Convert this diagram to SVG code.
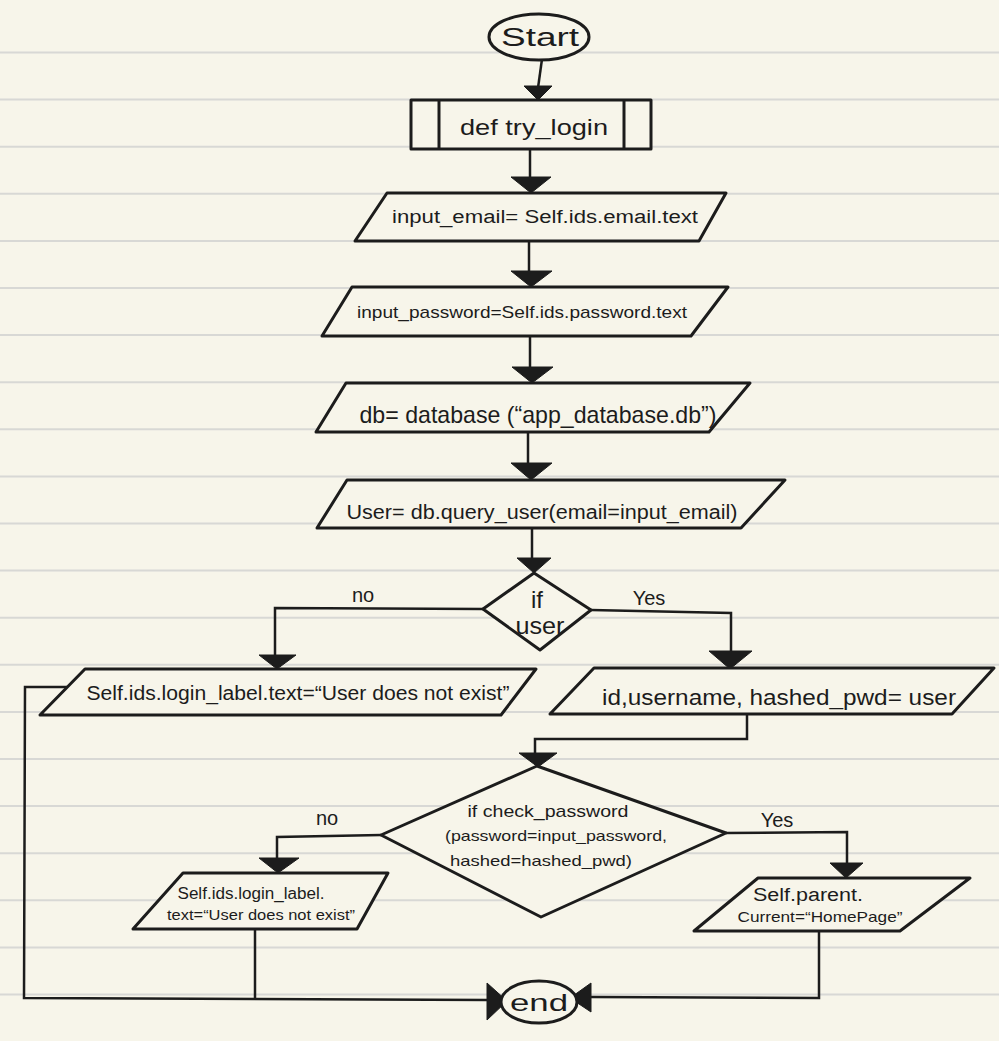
<svg xmlns="http://www.w3.org/2000/svg" width="999" height="1041" viewBox="0 0 999 1041">
<style>
.rule{stroke:#d8d8d5;stroke-width:2}
.shape{fill:#f7f5ea;stroke:#1c1c1c;stroke-width:3;stroke-linejoin:round}
.conn{fill:none;stroke:#1c1c1c;stroke-width:2.5;stroke-linejoin:miter}
.head{fill:#1c1c1c;stroke:#1c1c1c;stroke-width:1;stroke-linejoin:round}
text{font-family:"Liberation Sans",Arial,sans-serif;fill:#1c1c1c;text-anchor:middle;dominant-baseline:central}
</style>
<rect width="999" height="1041" fill="#f7f5ea"/>
<g id="paper">
<line class="rule" x1="0" y1="52.5" x2="999" y2="52.5"/>
<line class="rule" x1="0" y1="99.6" x2="999" y2="99.6"/>
<line class="rule" x1="0" y1="146.7" x2="999" y2="146.7"/>
<line class="rule" x1="0" y1="193.8" x2="999" y2="193.8"/>
<line class="rule" x1="0" y1="240.9" x2="999" y2="240.9"/>
<line class="rule" x1="0" y1="288" x2="999" y2="288"/>
<line class="rule" x1="0" y1="335.1" x2="999" y2="335.1"/>
<line class="rule" x1="0" y1="382.2" x2="999" y2="382.2"/>
<line class="rule" x1="0" y1="429.3" x2="999" y2="429.3"/>
<line class="rule" x1="0" y1="476.4" x2="999" y2="476.4"/>
<line class="rule" x1="0" y1="523.5" x2="999" y2="523.5"/>
<line class="rule" x1="0" y1="570.6" x2="999" y2="570.6"/>
<line class="rule" x1="0" y1="617.7" x2="999" y2="617.7"/>
<line class="rule" x1="0" y1="664.8" x2="999" y2="664.8"/>
<line class="rule" x1="0" y1="711.9" x2="999" y2="711.9"/>
<line class="rule" x1="0" y1="759" x2="999" y2="759"/>
<line class="rule" x1="0" y1="806.1" x2="999" y2="806.1"/>
<line class="rule" x1="0" y1="853.2" x2="999" y2="853.2"/>
<line class="rule" x1="0" y1="900.3" x2="999" y2="900.3"/>
<line class="rule" x1="0" y1="947.4" x2="999" y2="947.4"/>
<line class="rule" x1="0" y1="994.5" x2="999" y2="994.5"/>
</g>
<g id="connectors">
<line class="conn" x1="542" y1="59" x2="538" y2="88"/>
<polygon class="head" points="524,86 552,86 538,100"/>
<line class="conn" x1="530" y1="149" x2="530" y2="178"/>
<polygon class="head" points="511,177 551,177 531,193"/>
<line class="conn" x1="529" y1="241" x2="529" y2="272"/>
<polygon class="head" points="511,271 552,271 531,287"/>
<line class="conn" x1="530" y1="336" x2="530" y2="368"/>
<polygon class="head" points="512,367 553,367 532,383"/>
<line class="conn" x1="528" y1="432" x2="528" y2="464"/>
<polygon class="head" points="511,463 552,463 531,480"/>
<line class="conn" x1="532" y1="528" x2="532" y2="559"/>
<polygon class="head" points="517,558 551,558 534,573"/>
<polyline class="conn" points="483,609 275,608 275,656"/>
<polygon class="head" points="259,655 296,655 277,669"/>
<polyline class="conn" points="591,610 731,613 731,652"/>
<polygon class="head" points="709,651 752,651 730,669"/>
<polyline class="conn" points="747,714 747,739 535,739 535,754"/>
<polygon class="head" points="519,753 557,753 538,767"/>
<polyline class="conn" points="381,835 277,837 277,859"/>
<polygon class="head" points="259,858 299,858 278,873"/>
<polyline class="conn" points="726,833 847,832 847,864"/>
<polygon class="head" points="830,863 863,863 846,878"/>
<polyline class="conn" points="67,687 25,687 24,998 488,1000"/>
<polygon class="head" points="487,983 487,1020 507,1001"/>
<line class="conn" x1="255" y1="929" x2="255" y2="1000"/>
<polyline class="conn" points="819,931 819,998 591,997"/>
<polygon class="head" points="591,983 591,1012 570,998"/>
</g>
<g id="start">
<ellipse class="shape" cx="539" cy="37" rx="50" ry="23"/>
<text x="540" y="37" font-size="26" textLength="78" lengthAdjust="spacingAndGlyphs">Start</text>
</g>
<g id="def-try-login">
<rect class="shape" x="411" y="100" width="240" height="49"/>
<line class="shape" x1="439" y1="100" x2="439" y2="149"/>
<line class="shape" x1="624" y1="100" x2="624" y2="149"/>
<text x="534" y="127" font-size="22" textLength="148" lengthAdjust="spacingAndGlyphs">def try_login</text>
</g>
<g id="input-email">
<polygon class="shape" points="387,193 726,193 699,241 355,241"/>
<text x="545" y="217" font-size="18" textLength="306" lengthAdjust="spacingAndGlyphs">input_email= Self.ids.email.text</text>
</g>
<g id="input-password">
<polygon class="shape" points="352,287 728,287 691,336 322,336"/>
<text x="522" y="312" font-size="17" textLength="330" lengthAdjust="spacingAndGlyphs">input_password=Self.ids.password.text</text>
</g>
<g id="db">
<polygon class="shape" points="346,383 750,383 709,432 316,432"/>
<text x="538" y="414" font-size="24" textLength="357" lengthAdjust="spacingAndGlyphs">db= database (“app_database.db”)</text>
</g>
<g id="query-user">
<polygon class="shape" points="347,480 785,480 741,528 317,528"/>
<text x="542" y="512" font-size="20" textLength="391" lengthAdjust="spacingAndGlyphs">User= db.query_user(email=input_email)</text>
</g>
<g id="if-user">
<polygon class="shape" points="534,573 591,610 540,650 483,609"/>
<text x="537" y="599" font-size="24">if</text>
<text x="540" y="625" font-size="24" textLength="49" lengthAdjust="spacingAndGlyphs">user</text>
<text x="363" y="595" font-size="20">no</text>
<text x="649" y="598" font-size="20">Yes</text>
</g>
<g id="user-not-exist">
<polygon class="shape" points="85,669 536,669 501,715 40,715"/>
<text x="298" y="693" font-size="20" textLength="423" lengthAdjust="spacingAndGlyphs">Self.ids.login_label.text=“User does not exist”</text>
</g>
<g id="unpack-user">
<polygon class="shape" points="594,668 994,668 952,714 550,714"/>
<text x="779" y="697" font-size="22" textLength="354" lengthAdjust="spacingAndGlyphs">id,username, hashed_pwd= user</text>
</g>
<g id="check-password">
<polygon class="shape" points="537,766 726,833 541,917 381,835"/>
<text x="548" y="811" font-size="17" textLength="161" lengthAdjust="spacingAndGlyphs">if check_password</text>
<text x="556" y="835" font-size="15" textLength="222" lengthAdjust="spacingAndGlyphs">(password=input_password,</text>
<text x="541" y="860" font-size="15" textLength="182" lengthAdjust="spacingAndGlyphs">hashed=hashed_pwd)</text>
<text x="327" y="818" font-size="20">no</text>
<text x="777" y="820" font-size="20">Yes</text>
</g>
<g id="wrong-password">
<polygon class="shape" points="183,873 388,873 357,929 133,929"/>
<text x="251" y="893" font-size="16" textLength="147" lengthAdjust="spacingAndGlyphs">Self.ids.login_label.</text>
<text x="261" y="915" font-size="14" textLength="188" lengthAdjust="spacingAndGlyphs">text=“User does not exist”</text>
</g>
<g id="go-home">
<polygon class="shape" points="758,878 970,878 900,931 694,931"/>
<text x="808" y="895" font-size="18" textLength="110" lengthAdjust="spacingAndGlyphs">Self.parent.</text>
<text x="820" y="916" font-size="15" textLength="165" lengthAdjust="spacingAndGlyphs">Current=“HomePage”</text>
</g>
<g id="end">
<ellipse class="shape" cx="539" cy="1002" rx="38" ry="21"/>
<text x="539" y="1002" font-size="24" textLength="58" lengthAdjust="spacingAndGlyphs">end</text>
</g>
</svg>
